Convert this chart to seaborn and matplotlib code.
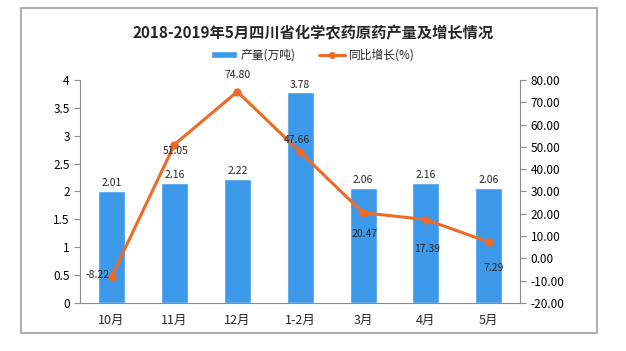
import numpy as np
import pandas as pd
import matplotlib
matplotlib.use("Agg")
import matplotlib.pyplot as plt
import seaborn as sns
from matplotlib.patches import Rectangle
from matplotlib.lines import Line2D
from matplotlib.patches import Patch

sns.set_style("white")
plt.rcParams['font.family'] = ['Noto Sans CJK SC', 'DejaVu Sans']

# data
months = ['10月', '11月', '12月', '1-2月', '3月', '4月', '5月']
output = [2.01, 2.16, 2.22, 3.78, 2.06, 2.16, 2.06]
growth = [-8.22, 51.05, 74.80, 47.66, 20.47, 17.39, 7.29]

df = pd.DataFrame({'month': months, 'output': output, 'growth': growth})

bar_color = '#3d9aea'
line_color = '#ee6a25'
axis_color = '#8c8c8c'

fig = plt.figure(figsize=(6.26, 3.51), dpi=100)
ax = fig.add_axes([0.128, 0.137, 0.703, 0.635])

sns.barplot(data=df, x='month', y='output', color=bar_color, width=0.43,
            saturation=1, ax=ax)
ax.set_ylim(0, 4)
ax.set_yticks(np.arange(0, 4.01, 0.5))
ax.set_yticklabels(['0', '0.5', '1', '1.5', '2', '2.5', '3', '3.5', '4'])
ax.set_xlim(-0.5, len(months) - 0.5)
ax.set_xlabel('')
ax.set_ylabel('')

for i, v in enumerate(output):
    ax.text(i, v + 0.05, f'{v:.2f}', ha='center', va='bottom', fontsize=7.5)

ax2 = ax.twinx()
x_idx = np.arange(len(months))
sns.lineplot(x=x_idx, y=growth, color=line_color, lw=2.2, marker='o',
             markersize=6, markeredgewidth=0, ax=ax2)
ax2.set_ylim(-20, 80)
ax2.set_yticks(np.arange(-20, 80.1, 10))
ax2.set_yticklabels([f'{t:.2f}' for t in np.arange(-20, 80.1, 10)])

# growth labels: offsets in points
offsets = [(-10, 1), (1, -5), (0, 12), (-2, 9), (1, -15), (1, -21), (3.5, -19)]
for i, (v, off) in enumerate(zip(growth, offsets)):
    ax2.annotate(f'{v:.2f}', (i, v), xytext=off, textcoords='offset points',
                 ha='center', va='center', fontsize=7.5)

# axes styling
for a in (ax, ax2):
    for s in a.spines.values():
        s.set_visible(False)
    a.tick_params(colors='black', labelsize=8.5, length=4, width=0.8)
    a.tick_params(axis='y', color=axis_color)
ax.spines['left'].set_visible(True)
ax.spines['left'].set_color(axis_color)
ax.spines['bottom'].set_visible(True)
ax.spines['bottom'].set_color(axis_color)
ax2.spines['right'].set_visible(True)
ax2.spines['right'].set_color(axis_color)

# x ticks at category boundaries, labels centred
ax.set_xticks(np.arange(-0.5, len(months), 1))
ax.set_xticklabels([''] * (len(months) + 1))
ax.set_xticks(x_idx, minor=True)
ax.set_xticklabels(months, minor=True, fontsize=9)
ax.tick_params(axis='x', which='major', color=axis_color, length=4)
ax.tick_params(axis='x', which='minor', length=0, pad=8)

# title and legend
fig.text(0.5, 0.905, '2018-2019年5月四川省化学农药原药产量及增长情况',
         ha='center', va='center', fontsize=11, fontweight='bold')
handles = [Patch(facecolor=bar_color, label='产量(万吨)'),
           Line2D([0], [0], color=line_color, lw=2.2, marker='o',
                  markersize=4, label='同比增长(%)')]
fig.legend(handles=handles, loc='center', bbox_to_anchor=(0.5, 0.843), ncol=2,
           frameon=False, fontsize=8.5, handlelength=2.2, handleheight=0.6,
           columnspacing=2.0, handletextpad=0.3)

# outer frame
fig.patches.append(Rectangle((0.033, 0.052), 0.921, 0.925, transform=fig.transFigure,
                             fill=False, edgecolor='#a0a0a0', lw=1.2))

fig.savefig('out.png', dpi=100)
